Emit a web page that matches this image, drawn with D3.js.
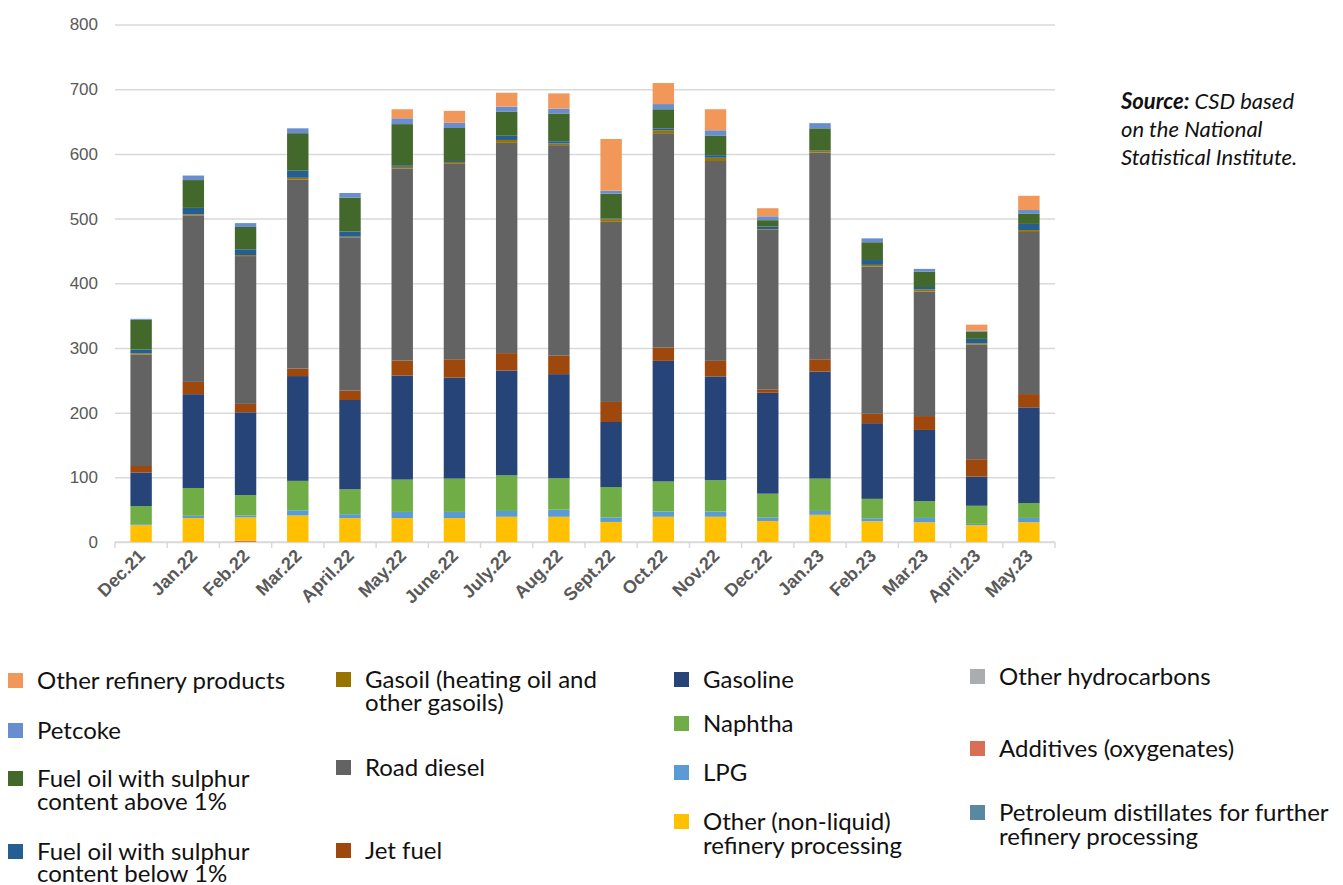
<!DOCTYPE html>
<html lang="en">
<head>
<meta charset="UTF-8">
<title>Refinery output by product</title>
<script src="https://d3js.org/d3.v7.min.js"></script>
<style>
    body { margin: 0; background: #fff; }
    .tick-y { font-family: "Liberation Sans", Arial, sans-serif; font-size: 17px; fill: #595959; }
    .tick-x { font-family: "Liberation Sans", Arial, sans-serif; font-size: 18px; fill: #595959; font-weight: bold; }
    .legend-text { font-family: Lato, "Open Sans", sans-serif; font-size: 24px; fill: #111; }
    .source { font-family: Lato, "Open Sans", sans-serif; font-size: 22px; font-style: italic; fill: #111; }
</style>
</head>
<body>
<div id="chart"></div>
<script>
// months on the x axis
const months = ["Dec.21", "Jan.22", "Feb.22", "Mar.22", "April.22", "May.22", "June.22", "July.22",
    "Aug.22", "Sept.22", "Oct.22", "Nov.22", "Dec.22", "Jan.23", "Feb.23", "Mar.23", "April.23", "May.23"];

// series values, bottom of the stack first
const petroleumDistillates = [0, 0, 0, 0, 0, 0, 0, 0, 0, 0, 0, 0, 0, 0, 0, 0, 0, 0];
const additives            = [0, 0, 2, 0, 0, 0, 0, 0, 0, 0, 0, 0, 0, 0, 0, 0, 0, 0];
const otherHydrocarbons    = [0, 0, 0, 0, 0, 0, 0, 0, 0, 0, 0, 0, 0, 0, 0, 0, 0, 0];
const otherNonLiquid = [26, 37, 36, 41, 37, 37, 37, 39, 39, 31, 39, 39, 32.5, 42, 32, 30.5, 26, 30.5];
const lpg            = [1.5, 3.5, 3, 8, 6, 9.5, 9.5, 9, 11, 7, 8, 8, 5.7, 6, 4.7, 6.7, 2, 6.7];
const naphtha        = [28, 43, 31.5, 45.5, 38.5, 50, 51.5, 55, 48.5, 47, 46.5, 48.5, 36.5, 50, 30, 26, 28, 23];
const gasoline       = [52, 145, 128, 162, 138, 161, 156, 162, 161, 100.5, 186.5, 160.5, 156, 165.5, 117, 110, 45, 148];
const jetFuel        = [10, 19, 13, 11.5, 14.5, 23, 28.5, 27, 28.5, 31, 20.5, 24, 5.3, 19, 14.5, 21.5, 27, 20.5];
const roadDiesel     = [172, 257.5, 228.5, 292, 237, 297, 303, 325, 325.5, 278.5, 331.5, 309, 246.5, 319.5, 227.5, 192.5, 177, 250.5];
const gasoil         = [2, 1.5, 1.5, 3, 1, 2.5, 2, 4.5, 2.5, 4, 4.5, 5, 1, 2.5, 2.7, 3, 2, 3];
const foBelow1       = [6, 10, 9, 11, 8, 2.5, 1.5, 6.5, 3.5, 1, 3, 4, 4, 1, 7.5, 4, 7, 9.5];
const foAbove1       = [46, 43, 34.5, 58, 52.5, 63.5, 51, 37, 43, 38.5, 29.5, 30.5, 10, 34, 27.5, 23.5, 11, 15.5];
const petcoke        = [1.5, 7, 6, 7.5, 7, 9, 8, 8, 7.5, 4.5, 8, 8, 6, 8, 6, 4.5, 1.5, 6];
const otherRefinery  = [0, 0, 0, 0, 0, 14, 18.5, 21.5, 23.5, 80, 32.5, 32.5, 12.5, 0, 0, 0, 9.5, 22];

const yTicks = [0, 100, 200, 300, 400, 500, 600, 700, 800];

const series = [
    { key: "petroleumDistillates", name: "Petroleum distillates for further refinery processing", values: petroleumDistillates, color: "#5A87A1" },
    { key: "additives", name: "Additives (oxygenates)", values: additives, color: "#DA6F57" },
    { key: "otherHydrocarbons", name: "Other hydrocarbons", values: otherHydrocarbons, color: "#A9ADB0" },
    { key: "otherNonLiquid", name: "Other (non-liquid) refinery processing", values: otherNonLiquid, color: "#FFC000" },
    { key: "lpg", name: "LPG", values: lpg, color: "#5B9BD5" },
    { key: "naphtha", name: "Naphtha", values: naphtha, color: "#70AD47" },
    { key: "gasoline", name: "Gasoline", values: gasoline, color: "#264478" },
    { key: "jetFuel", name: "Jet fuel", values: jetFuel, color: "#9E480E" },
    { key: "roadDiesel", name: "Road diesel", values: roadDiesel, color: "#636363" },
    { key: "gasoil", name: "Gasoil (heating oil and other gasoils)", values: gasoil, color: "#997300" },
    { key: "foBelow1", name: "Fuel oil with sulphur content below 1%", values: foBelow1, color: "#255E91" },
    { key: "foAbove1", name: "Fuel oil with sulphur content above 1%", values: foAbove1, color: "#43682B" },
    { key: "petcoke", name: "Petcoke", values: petcoke, color: "#698ED0" },
    { key: "otherRefinery", name: "Other refinery products", values: otherRefinery, color: "#F1975A" }
];

// legend layout: [key, x of swatch, text lines with their y]
const legendLayout = [
    ["otherRefinery", 8, [["Other refinery products", 681]]],
    ["petcoke", 8, [["Petcoke", 731]]],
    ["foAbove1", 8, [["Fuel oil with sulphur", 779], ["content above 1%", 802]]],
    ["foBelow1", 8, [["Fuel oil with sulphur", 852], ["content below 1%", 874]]],
    ["gasoil", 336, [["Gasoil (heating oil and", 680], ["other gasoils)", 703]]],
    ["roadDiesel", 336, [["Road diesel", 768]]],
    ["jetFuel", 336, [["Jet fuel", 851]]],
    ["gasoline", 674, [["Gasoline", 680]]],
    ["naphtha", 674, [["Naphtha", 724]]],
    ["lpg", 674, [["LPG", 773]]],
    ["otherNonLiquid", 674, [["Other (non-liquid)", 822], ["refinery processing", 846]]],
    ["otherHydrocarbons", 970, [["Other hydrocarbons", 677]]],
    ["additives", 970, [["Additives (oxygenates)", 749]]],
    ["petroleumDistillates", 970, [["Petroleum distillates for further", 813], ["refinery processing", 837]]]
];

const width = 1343;
const height = 885;

const svg = d3.select("#chart").append("svg")
    .attr("width", width)
    .attr("height", height);

const rows = months.map((m, i) => {
    const r = { month: m };
    series.forEach(s => { r[s.key] = s.values[i]; });
    return r;
});

const stack = d3.stack().keys(series.map(s => s.key));
const stacked = stack(rows);

const x = d3.scaleBand().domain(months).range([115, 1055]).paddingInner(0.59).paddingOuter(0.295);
const y = d3.scaleLinear().domain([0, 800]).range([542, 24.5]);

// gridlines + y labels
const yAxis = svg.append("g")
    .attr("transform", "translate(115,0)")
    .call(d3.axisLeft(y).tickValues(yTicks).tickSize(-940).tickPadding(17));
yAxis.select(".domain").remove();
yAxis.selectAll(".tick line").attr("stroke", "#D9D9D9").attr("stroke-width", 1.5);
yAxis.selectAll(".tick text").attr("class", "tick-y").attr("fill", null);

// x axis: base line with ticks at the category borders
const xAxis = svg.append("g").attr("transform", "translate(0,542)");
xAxis.append("line").attr("x1", 115).attr("x2", 1055).attr("stroke", "#D9D9D9").attr("stroke-width", 1.5);
xAxis.selectAll(".xtick")
    .data(d3.range(months.length + 1))
    .join("line")
    .attr("x1", i => 115 + i * x.step())
    .attr("x2", i => 115 + i * x.step())
    .attr("y1", 0).attr("y2", 6)
    .attr("stroke", "#D9D9D9").attr("stroke-width", 1.5);

xAxis.selectAll(".tick-x")
    .data(months)
    .join("text")
    .attr("class", "tick-x")
    .attr("text-anchor", "end")
    .attr("transform", d => `translate(${x(d) + x.bandwidth() / 2 + 5},${15}) rotate(-45)`)
    .text(d => d);

// bars
const color = d3.scaleOrdinal().domain(series.map(s => s.key)).range(series.map(s => s.color));

svg.append("g").selectAll("g")
    .data(stacked)
    .join("g")
    .attr("fill", d => color(d.key))
    .selectAll("rect")
    .data(d => d)
    .join("rect")
    .attr("x", d => x(d.data.month))
    .attr("width", x.bandwidth())
    .attr("y", d => y(d[1]))
    .attr("height", d => Math.max(0, y(d[0]) - y(d[1])));

// legend
const legend = svg.append("g");
legendLayout.forEach(([key, lx, lines]) => {
    const g = legend.append("g");
    g.append("rect")
        .attr("x", lx).attr("y", lines[0][1] - 8)
        .attr("width", 15).attr("height", 15)
        .attr("fill", color(key));
    lines.forEach(([t, ly]) => {
        g.append("text")
            .attr("class", "legend-text")
            .attr("x", lx + 29)
            .attr("y", ly)
            .attr("dy", "0.35em")
            .text(t);
    });
});

// source note
const src = svg.append("g");
const srcLines = [["Source:", " CSD based", 101], ["", "on the National", 129], ["", "Statistical Institute.", 157]];
srcLines.forEach(([b, t, ly]) => {
    const txt = src.append("text").attr("class", "source").attr("x", 1121).attr("y", ly).attr("dy", "0.35em");
    if (b) txt.append("tspan").attr("font-weight", "bold").text(b);
    txt.append("tspan").text(t);
});
</script>
</body>
</html>
